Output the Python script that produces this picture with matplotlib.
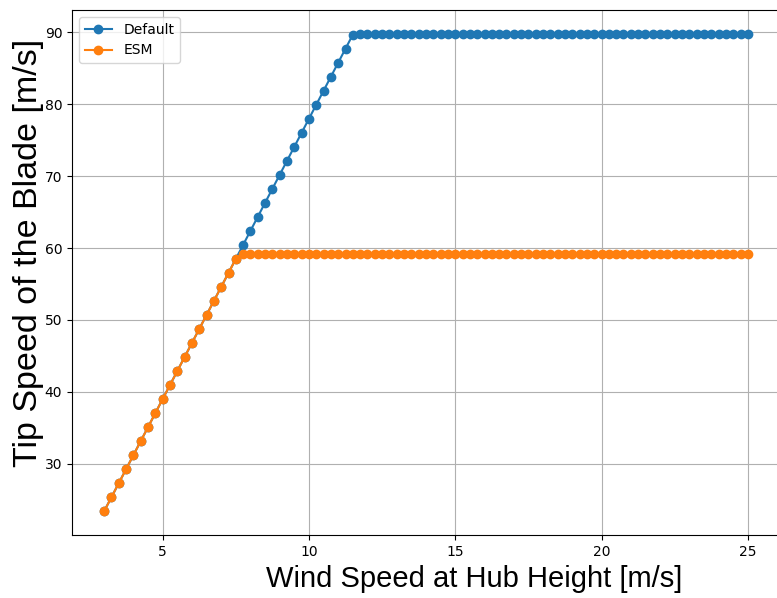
import matplotlib
matplotlib.use("Agg")
import matplotlib.pyplot as plt

wind_speed = [3.0, 3.25, 3.5, 3.75, 4.0, 4.25, 4.5, 4.75, 5.0, 5.25, 5.5, 5.75,
              6.0, 6.25, 6.5, 6.75, 7.0, 7.25, 7.5, 7.75, 8.0, 8.25, 8.5, 8.75,
              9.0, 9.25, 9.5, 9.75, 10.0, 10.25, 10.5, 10.75, 11.0, 11.25, 11.5, 11.75,
              12.0, 12.25, 12.5, 12.75, 13.0, 13.25, 13.5, 13.75, 14.0, 14.25, 14.5, 14.75,
              15.0, 15.25, 15.5, 15.75, 16.0, 16.25, 16.5, 16.75, 17.0, 17.25, 17.5, 17.75,
              18.0, 18.25, 18.5, 18.75, 19.0, 19.25, 19.5, 19.75, 20.0, 20.25, 20.5, 20.75,
              21.0, 21.25, 21.5, 21.75, 22.0, 22.25, 22.5, 22.75, 23.0, 23.25, 23.5, 23.75,
              24.0, 24.25, 24.5, 24.75, 25.0]

tip_default = [23.4, 25.35, 27.3, 29.25, 31.2, 33.15, 35.1, 37.05, 39.0, 40.95, 42.9, 44.85,
               46.8, 48.75, 50.7, 52.65, 54.6, 56.55, 58.5, 60.45, 62.4, 64.35, 66.3, 68.25,
               70.2, 72.15, 74.1, 76.05, 78.0, 79.95, 81.9, 83.85, 85.8, 87.75, 89.7, 89.8,
               89.8, 89.8, 89.8, 89.8, 89.8, 89.8, 89.8, 89.8, 89.8, 89.8, 89.8, 89.8,
               89.8, 89.8, 89.8, 89.8, 89.8, 89.8, 89.8, 89.8, 89.8, 89.8, 89.8, 89.8,
               89.8, 89.8, 89.8, 89.8, 89.8, 89.8, 89.8, 89.8, 89.8, 89.8, 89.8, 89.8,
               89.8, 89.8, 89.8, 89.8, 89.8, 89.8, 89.8, 89.8, 89.8, 89.8, 89.8, 89.8,
               89.8, 89.8, 89.8, 89.8, 89.8]

tip_esm = [23.4, 25.35, 27.3, 29.25, 31.2, 33.15, 35.1, 37.05, 39.0, 40.95, 42.9, 44.85,
           46.8, 48.75, 50.7, 52.65, 54.6, 56.55, 58.5, 59.2, 59.2, 59.2, 59.2, 59.2,
           59.2, 59.2, 59.2, 59.2, 59.2, 59.2, 59.2, 59.2, 59.2, 59.2, 59.2, 59.2,
           59.2, 59.2, 59.2, 59.2, 59.2, 59.2, 59.2, 59.2, 59.2, 59.2, 59.2, 59.2,
           59.2, 59.2, 59.2, 59.2, 59.2, 59.2, 59.2, 59.2, 59.2, 59.2, 59.2, 59.2,
           59.2, 59.2, 59.2, 59.2, 59.2, 59.2, 59.2, 59.2, 59.2, 59.2, 59.2, 59.2,
           59.2, 59.2, 59.2, 59.2, 59.2, 59.2, 59.2, 59.2, 59.2, 59.2, 59.2, 59.2,
           59.2, 59.2, 59.2, 59.2, 59.2]

series_labels = ["Default", "ESM"]
x_label = "Wind Speed at Hub Height [m/s]"
y_label = "Tip Speed of the Blade [m/s]"

fig = plt.figure(figsize=(7.77, 5.98), dpi=100)
ax = fig.add_axes([72 / 777, 63 / 598, 708 / 777, 525 / 598])

ax.plot(wind_speed, tip_default, "-o", color="#1f77b4", markersize=6, linewidth=1.5,
        label=series_labels[0])
ax.plot(wind_speed, tip_esm, "-o", color="#ff7f0e", markersize=6, linewidth=1.5,
        label=series_labels[1])

ax.grid(True, color="#b0b0b0", linewidth=0.8)
ax.set_axisbelow(True)
ax.set_xticks([5, 10, 15, 20, 25])
ax.set_yticks([30, 40, 50, 60, 70, 80, 90])
ax.tick_params(labelsize=10)
ax.spines["right"].set_visible(False)

ax.set_xlabel(x_label, fontsize=21, family="Liberation Sans")
ax.set_ylabel(y_label, fontsize=24.5, family="Liberation Sans")
ax.xaxis.set_label_coords(0.568, -0.058)
ax.yaxis.set_label_coords(-0.040, 0.537)

ax.legend(loc="upper left", fontsize=10)

fig.savefig("out.png", dpi=100)
